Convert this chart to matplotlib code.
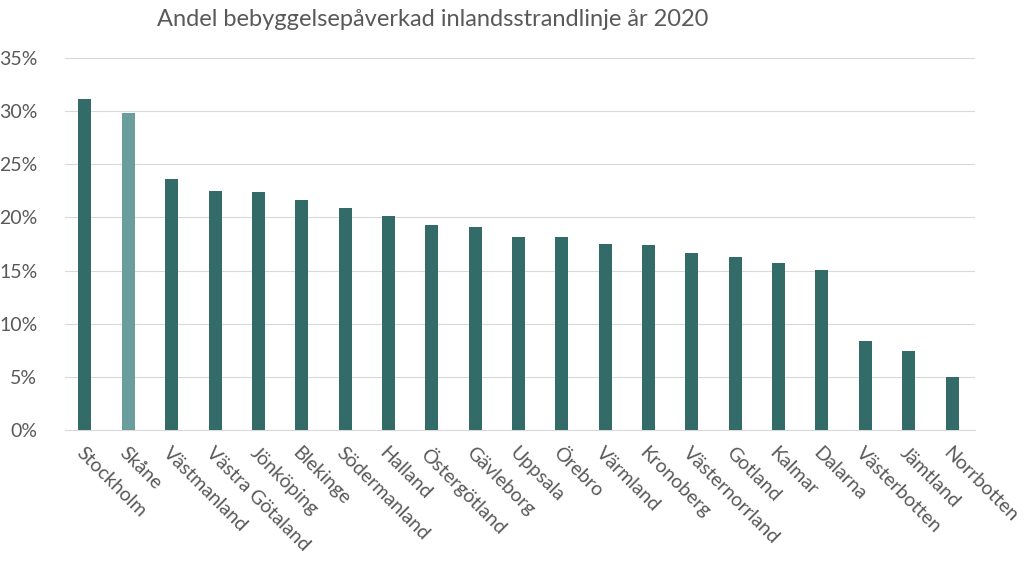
import matplotlib.pyplot as plt
from matplotlib.ticker import PercentFormatter

lan = ['Stockholm', 'Skåne', 'Västmanland', 'Västra Götaland', 'Jönköping',
       'Blekinge', 'Södermanland', 'Halland', 'Östergötland', 'Gävleborg',
       'Uppsala', 'Örebro', 'Värmland', 'Kronoberg', 'Västernorrland',
       'Gotland', 'Kalmar', 'Dalarna', 'Västerbotten', 'Jämtland', 'Norrbotten']
andel = [31.1, 29.8, 23.6, 22.5, 22.4, 21.6, 20.9, 20.1, 19.3, 19.1,
         18.2, 18.2, 17.5, 17.4, 16.7, 16.3, 15.7, 15.1, 8.4, 7.4, 5.0]
markerad = 'Skåne'

plt.rcParams['font.family'] = ['Lato', 'DejaVu Sans']
textfarg = '#595959'
mork = '#336b69'
ljus = '#6a9e9c'

fig = plt.figure(figsize=(10.24, 5.76), dpi=100)
ax = fig.add_axes([65/1024, 1 - 430/576, 910/1024, (430 - 58)/576])

farger = [ljus if l == markerad else mork for l in lan]
x = range(len(lan))
ax.bar(x, [v / 100 for v in andel], width=0.3, color=farger, zorder=3)

ax.set_ylim(0, 0.35)
ax.set_yticks([i * 0.05 for i in range(8)])
ax.yaxis.set_major_formatter(PercentFormatter(1.0, decimals=0))
ax.set_xlim(-0.46, len(lan) - 1 + 0.53)
ax.set_xticks(list(x))
ax.set_xticklabels(lan, rotation=-45, ha='left', va='top', rotation_mode='anchor',
                   fontsize=14, color=textfarg)
ax.tick_params(axis='y', labelsize=14, labelcolor=textfarg, length=0, pad=20)
ax.tick_params(axis='x', length=0, pad=10)
ax.grid(axis='y', color='#d9d9d9', linewidth=0.8, zorder=0)
for s in ['top', 'right', 'left']:
    ax.spines[s].set_visible(False)
ax.spines['bottom'].set_color('#d9d9d9')

fig.text(433/1024, 1 - 20/576, 'Andel bebyggelsepåverkad inlandsstrandlinje år 2020',
         ha='center', va='center', fontsize=17, color=textfarg)

fig.savefig('out.png', dpi=100)
